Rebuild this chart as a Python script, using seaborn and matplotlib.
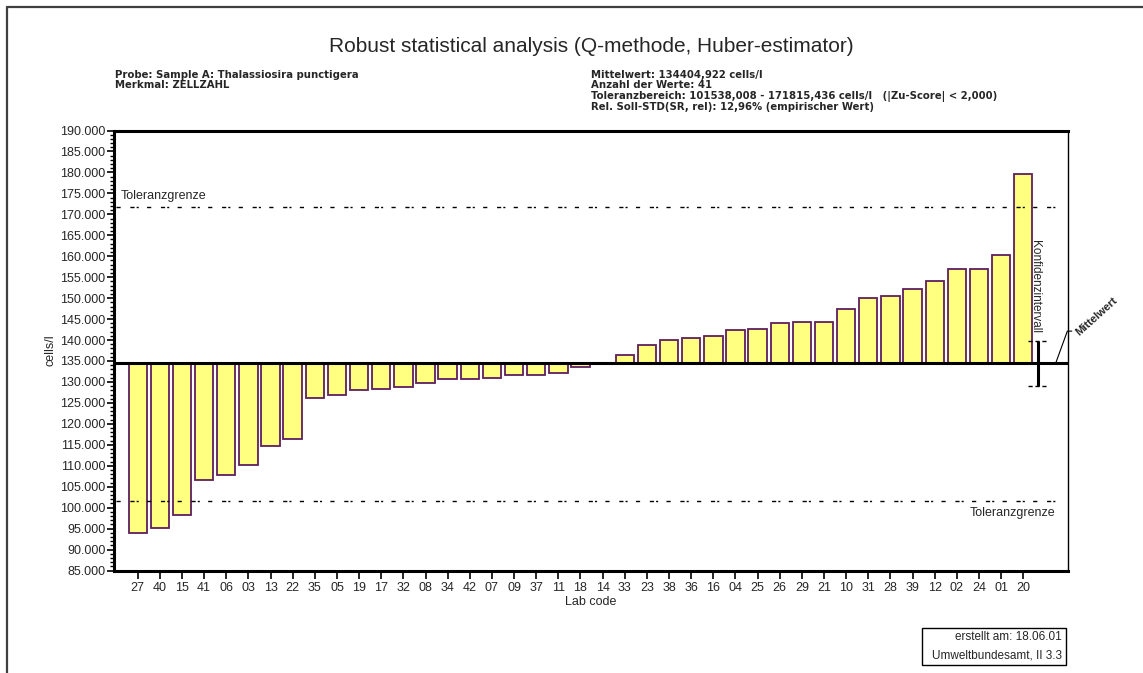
import numpy as np
import pandas as pd
import matplotlib
matplotlib.use("Agg")
import matplotlib.pyplot as plt
import seaborn as sns
from matplotlib.ticker import MultipleLocator, FuncFormatter
from matplotlib.lines import Line2D
from matplotlib.patches import Rectangle

# ---------------- data ----------------
lab_codes = ["27", "40", "15", "41", "06", "03", "13", "22", "35", "05",
             "19", "17", "32", "08", "34", "42", "07", "09", "37", "11",
             "18", "14", "33", "23", "38", "36", "16", "04", "25", "26",
             "29", "21", "10", "31", "28", "39", "12", "02", "24", "01",
             "20"]
cell_counts = [93900, 95100, 98300, 106600, 107800, 110100, 114800, 116400, 126200, 126900,
               128100, 128400, 128700, 129700, 130600, 130600, 130900, 131600, 131600, 132200,
               133500, 134400, 136400, 138900, 140100, 140500, 140900, 142400, 142700, 144000,
               144300, 144300, 147500, 150000, 150600, 152200, 154000, 156900, 156900, 160300,
               179700]
mean_value = 134404.922
tol_low = 101538.008
tol_high = 171815.436
conf_low = 129000
conf_high = 139800

title = "Robust statistical analysis (Q-methode, Huber-estimator)"
header_left = ["Probe: Sample A: Thalassiosira punctigera", "Merkmal: ZELLZAHL"]
header_right = ["Mittelwert: 134404,922 cells/l",
                "Anzahl der Werte: 41",
                "Toleranzbereich: 101538,008 - 171815,436 cells/l   (|Zu-Score| < 2,000)",
                "Rel. Soll-STD(SR, rel): 12,96% (empirischer Wert)"]
footer_lines = ["erstellt am: 18.06.01", "Umweltbundesamt, II 3.3"]

# ---------------- style ----------------
sns.set_style("white")
plt.rcParams['font.family'] = ['Liberation Sans', 'DejaVu Sans']

W, H = 1143, 673
fig = plt.figure(figsize=(W / 100, H / 100), dpi=100)
fig.patch.set_facecolor("white")

def fx(px):
    return px / W

def fy(py):
    return 1 - py / H

ax_left, ax_right, ax_top, ax_bottom = 114, 1068, 130.5, 570.5
ax = fig.add_axes([fx(ax_left), fy(ax_bottom), fx(ax_right - ax_left), (ax_bottom - ax_top) / H])

df = pd.DataFrame({"lab": lab_codes, "dev": np.array(cell_counts, dtype=float) - mean_value})
sns.barplot(data=df, x="lab", y="dev", order=lab_codes, bottom=mean_value,
            width=0.83, color="#FFFF80", saturation=1, edgecolor="#5E1F5E",
            linewidth=1.3, errorbar=None, ax=ax)

ax.set_xlim(-1.07, 42.02)
ax.set_ylim(85000, 190000)

# axes styling
for side in ["top", "left", "bottom"]:
    ax.spines[side].set_linewidth(2.2)
    ax.spines[side].set_color("black")
ax.spines["right"].set_linewidth(1.0)
ax.spines["right"].set_color("black")

ax.yaxis.set_major_locator(MultipleLocator(5000))
ax.yaxis.set_minor_locator(MultipleLocator(1000))
ax.yaxis.set_major_formatter(FuncFormatter(lambda v, p: f"{v:,.0f}".replace(",", ".")))
ax.tick_params(axis="y", which="major", direction="out", length=5, width=1.2,
               labelsize=9, pad=1, color="black", left=True)
ax.tick_params(axis="y", which="minor", direction="out", length=3, width=1.0,
               color="black", left=True)
ax.tick_params(axis="x", which="major", direction="out", length=5.5, width=1.2,
               labelsize=9, pad=3, color="black", bottom=True)

ax.set_xlabel("Lab code", fontsize=9, labelpad=1)
ax.set_ylabel("cells/l", fontsize=9, labelpad=3)

# mean line
ax.axhline(mean_value, color="black", lw=2.2, zorder=3)

# tolerance lines
dash = (0, (3, 7, 3, 1.5, 1.5, 6))
ax.axhline(tol_high, xmin=0.002, xmax=0.987, color="black", lw=1.0, linestyle=dash)
ax.axhline(tol_low, xmin=0.002, xmax=0.987, color="black", lw=1.0, linestyle=dash)
ax.text(-0.75, 174400, "Toleranzgrenze", ha="left", va="center", fontsize=9)
ax.text(41.43, 98650, "Toleranzgrenze", ha="right", va="center", fontsize=9)

# confidence interval
ci_x = 40.68
ax.vlines(ci_x, conf_low, conf_high, color="black", lw=2.2, zorder=4)
ax.hlines([conf_low, conf_high], ci_x - 0.45, ci_x + 0.42, color="black", lw=1.0,
          linestyles=(0, (3, 2)), zorder=4)
ax.text(40.53, 152700, "Konfidenzintervall", rotation=270, ha="center", va="center",
        fontsize=8.5)

# Mittelwert leader line + label
ax.plot([41.46, 41.99, 42.19], [mean_value, 142120, 142120], color="black", lw=0.8,
        clip_on=False)
fig.text(fx(1077), fy(334), "Mittelwert", rotation=42, rotation_mode="anchor",
         ha="left", va="center", fontsize=8, fontweight="bold")

# title and headers
fig.text(fx(591), fy(46), title, ha="center", va="center", fontsize=15)
hdr_font = ["DejaVu Sans"]
for i, line in enumerate(header_left):
    fig.text(fx(115), fy(75 + i * 10.5), line, ha="left", va="center", fontsize=7.3,
             fontweight="bold", family=hdr_font)
for i, line in enumerate(header_right):
    fig.text(fx(591), fy(75 + i * 10.5), line, ha="left", va="center", fontsize=7.3,
             fontweight="bold", family=hdr_font)

# footer box
fig.add_artist(Rectangle((fx(922), fy(665)), fx(1066 - 922), (665 - 628) / H,
                         transform=fig.transFigure, fill=False, edgecolor="black", lw=1.0))
for i, line in enumerate(footer_lines):
    fig.text(fx(1062), fy(637.5 + i * 18), line, ha="right", va="center", fontsize=8.5)

# page frame
fig.add_artist(Line2D([fx(7), 1.0], [fy(7), fy(7)], transform=fig.transFigure,
                      color="#404040", lw=1.6))
fig.add_artist(Line2D([fx(7), fx(7)], [fy(7), 0.0], transform=fig.transFigure,
                      color="#404040", lw=1.6))

fig.savefig("out.png", dpi=100, facecolor="white")
